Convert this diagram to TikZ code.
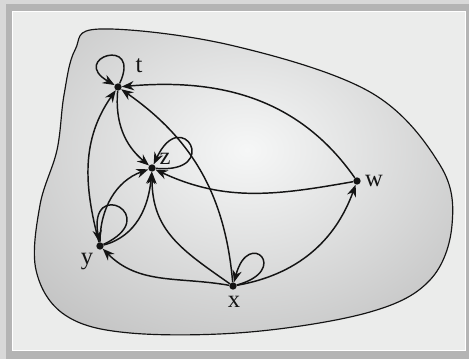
\documentclass[tikz,border=0pt]{standalone}
\usepackage{fontspec}
\setmainfont{Liberation Serif}
\usetikzlibrary{arrows.meta}
\definecolor{panel}{RGB}{235,236,235}
\definecolor{rim}{RGB}{180,180,180}
\definecolor{rimlight}{RGB}{216,216,216}
\definecolor{blobout}{RGB}{168,168,168}
\definecolor{blobin}{RGB}{246,247,247}
\definecolor{ink}{RGB}{20,20,20}
\tikzset{
  >={Stealth[length=3.6mm,width=2.8mm]},
  dot/.style={circle,fill=ink,inner sep=0pt,minimum size=2.2mm},
  lbl/.style={font=\fontsize{21}{24}\selectfont,text=ink,inner sep=0pt},
  link/.style={->,draw=ink,line width=1.25pt},
  self/.style={link,distance=#1},
  self/.default=1.6cm,
}

\begin{document}
\begin{tikzpicture}[x=0.03cm,y=0.03cm]
  % frame
  \fill[rimlight] (0,0) rectangle (469,359);
  \fill[rim] (6,0) rectangle (469,355);
  \fill[white] (12,8) rectangle (466,348);
  \fill[panel] (13,9) rectangle (465,347);
  % the region
  \path[draw=ink,line width=1pt,
    path picture={\shade[inner color=blobin,outer color=blobout] (247,209) ellipse (440 and 340);}]
    plot[smooth cycle,tension=0.6] coordinates {
      (100,330) (230,314) (370,267) (440,194) (452,134) (430,79) (370,47)
      (250,27) (130,26) (65,44) (36,89) (40,154) (57,209) (64,264) (75,309)};
  % points
  \node[dot] (t) at (118,272) {};
  \node[dot] (z) at (152,191) {};
  \node[dot] (w) at (357,178) {};
  \node[dot] (y) at (100,113) {};
  \node[dot] (x) at (233,73) {};
  \node[lbl] (lt) at (139,293) {t};
  \node[lbl] (lz) at (165,200) {z};
  \node[lbl] (lw) at (374,178) {w};
  \node[lbl] (ly) at (87,97) {y};
  \node[lbl] (lx) at (234,57) {x};
  % arcs
  \draw[link] (w) to[out=125,in=5] (t);
  \draw[link] (x) to[out=95,in=-35] (t);
  \draw[link] (y) to[out=105,in=235] (t);
  \draw[link] (t) to[out=265,in=140] (z);
  \draw[link] (w) to[out=190,in=-25] (z);
  \draw[link] (x) to[out=145,in=270,looseness=1.1] (z);
  \draw[link] (y) to[out=90,in=200] (z);
  \draw[link] (y) to[out=15,in=265] (z);
  \draw[link] (x) to[out=170,in=-45] (y);
  \draw[link] (x) to[out=10,in=250] (w);
  % loops
  \draw[self] (t) to[out=65,in=150] (t);
  \draw[self=2cm] (z) to[out=-5,in=65] (z);
  \draw[self=2cm] (y) to[out=25,in=100] (y);
  \draw[self=1.7cm] (x) to[out=15,in=75] (x);
\end{tikzpicture}
\end{document}
